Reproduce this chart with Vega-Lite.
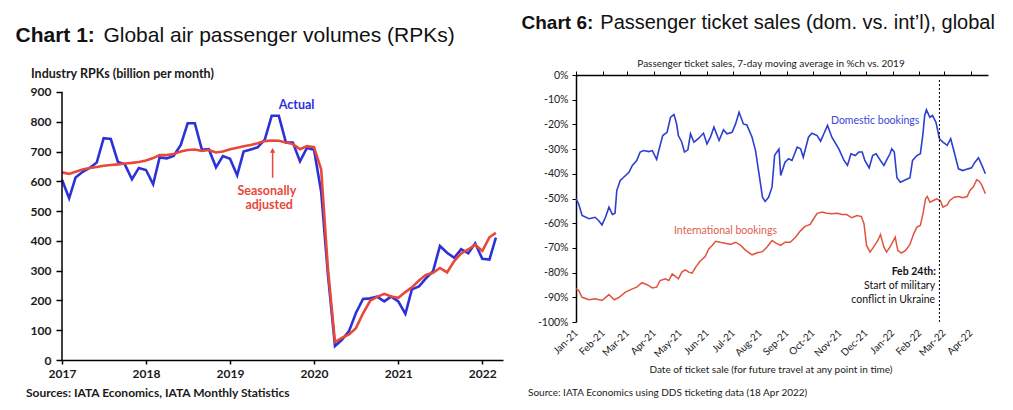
{
  "$schema": "https://vega.github.io/schema/vega-lite/v6.json",
  "background": "white",
  "padding": {"left": 15, "top": 12, "right": 5, "bottom": 5},
  "bounds": "flush",
  "spacing": 73,
  "config": {
    "view": {"stroke": null},
    "font": "Lato",
    "axis": {"grid": false, "domainColor": "#000000", "tickColor": "#000000", "labelColor": "#1a1a1a", "titleColor": "#1a1a1a", "labelFlush": false, "labelOverlap": false}
  },
  "datasets": {
    "rpk": [
      {"month": "2017-01-01", "actual": 605, "sa": 630},
      {"month": "2017-02-01", "actual": 543, "sa": 625},
      {"month": "2017-03-01", "actual": 613, "sa": 632},
      {"month": "2017-04-01", "actual": 632, "sa": 640},
      {"month": "2017-05-01", "actual": 645, "sa": 645},
      {"month": "2017-06-01", "actual": 663, "sa": 648},
      {"month": "2017-07-01", "actual": 745, "sa": 652},
      {"month": "2017-08-01", "actual": 742, "sa": 655},
      {"month": "2017-09-01", "actual": 665, "sa": 657},
      {"month": "2017-10-01", "actual": 657, "sa": 660},
      {"month": "2017-11-01", "actual": 607, "sa": 662},
      {"month": "2017-12-01", "actual": 645, "sa": 665},
      {"month": "2018-01-01", "actual": 638, "sa": 670},
      {"month": "2018-02-01", "actual": 590, "sa": 678},
      {"month": "2018-03-01", "actual": 680, "sa": 688},
      {"month": "2018-04-01", "actual": 677, "sa": 688},
      {"month": "2018-05-01", "actual": 685, "sa": 692},
      {"month": "2018-06-01", "actual": 722, "sa": 700},
      {"month": "2018-07-01", "actual": 795, "sa": 705},
      {"month": "2018-08-01", "actual": 795, "sa": 707},
      {"month": "2018-09-01", "actual": 706, "sa": 702},
      {"month": "2018-10-01", "actual": 708, "sa": 705},
      {"month": "2018-11-01", "actual": 647, "sa": 697},
      {"month": "2018-12-01", "actual": 685, "sa": 700},
      {"month": "2019-01-01", "actual": 676, "sa": 708},
      {"month": "2019-02-01", "actual": 620, "sa": 713},
      {"month": "2019-03-01", "actual": 700, "sa": 718},
      {"month": "2019-04-01", "actual": 707, "sa": 722},
      {"month": "2019-05-01", "actual": 714, "sa": 728},
      {"month": "2019-06-01", "actual": 740, "sa": 735},
      {"month": "2019-07-01", "actual": 820, "sa": 737},
      {"month": "2019-08-01", "actual": 820, "sa": 736},
      {"month": "2019-09-01", "actual": 730, "sa": 730},
      {"month": "2019-10-01", "actual": 730, "sa": 725},
      {"month": "2019-11-01", "actual": 667, "sa": 708},
      {"month": "2019-12-01", "actual": 712, "sa": 718},
      {"month": "2020-01-01", "actual": 706, "sa": 715},
      {"month": "2020-02-01", "actual": 565, "sa": 640},
      {"month": "2020-03-01", "actual": 290, "sa": 310},
      {"month": "2020-04-01", "actual": 47, "sa": 60},
      {"month": "2020-05-01", "actual": 68, "sa": 74},
      {"month": "2020-06-01", "actual": 97, "sa": 86},
      {"month": "2020-07-01", "actual": 158, "sa": 107},
      {"month": "2020-08-01", "actual": 205, "sa": 157},
      {"month": "2020-09-01", "actual": 207, "sa": 199},
      {"month": "2020-10-01", "actual": 213, "sa": 212},
      {"month": "2020-11-01", "actual": 197, "sa": 222},
      {"month": "2020-12-01", "actual": 213, "sa": 213},
      {"month": "2021-01-01", "actual": 197, "sa": 209},
      {"month": "2021-02-01", "actual": 155, "sa": 228},
      {"month": "2021-03-01", "actual": 237, "sa": 244},
      {"month": "2021-04-01", "actual": 247, "sa": 267},
      {"month": "2021-05-01", "actual": 274, "sa": 286},
      {"month": "2021-06-01", "actual": 298, "sa": 293},
      {"month": "2021-07-01", "actual": 383, "sa": 309},
      {"month": "2021-08-01", "actual": 360, "sa": 294},
      {"month": "2021-09-01", "actual": 343, "sa": 332},
      {"month": "2021-10-01", "actual": 372, "sa": 358},
      {"month": "2021-11-01", "actual": 358, "sa": 371},
      {"month": "2021-12-01", "actual": 392, "sa": 387},
      {"month": "2022-01-01", "actual": 340, "sa": 366},
      {"month": "2022-02-01", "actual": 337, "sa": 412},
      {"month": "2022-03-01", "actual": 411, "sa": 427}
    ],
    "dom": [
      {"date": "2021-01-01", "pct": -50.1}, {"date": "2021-01-04", "pct": -52.1}, {"date": "2021-01-08", "pct": -56.9}, {"date": "2021-01-16", "pct": -58.2},
      {"date": "2021-01-23", "pct": -57.6}, {"date": "2021-01-27", "pct": -58.9}, {"date": "2021-01-31", "pct": -60.7}, {"date": "2021-02-04", "pct": -57.6},
      {"date": "2021-02-08", "pct": -53.5}, {"date": "2021-02-12", "pct": -56.5}, {"date": "2021-02-15", "pct": -56}, {"date": "2021-02-17", "pct": -46.8},
      {"date": "2021-02-21", "pct": -42.7}, {"date": "2021-02-25", "pct": -41.4}, {"date": "2021-03-03", "pct": -39.4}, {"date": "2021-03-07", "pct": -36.6},
      {"date": "2021-03-12", "pct": -34.6}, {"date": "2021-03-16", "pct": -31.2}, {"date": "2021-03-20", "pct": -30.6}, {"date": "2021-03-26", "pct": -31},
      {"date": "2021-03-30", "pct": -30.6}, {"date": "2021-04-04", "pct": -34.2}, {"date": "2021-04-06", "pct": -31.2}, {"date": "2021-04-11", "pct": -24.5},
      {"date": "2021-04-16", "pct": -23.2}, {"date": "2021-04-20", "pct": -17.1}, {"date": "2021-04-24", "pct": -16}, {"date": "2021-04-27", "pct": -19.8},
      {"date": "2021-04-29", "pct": -24.5}, {"date": "2021-05-03", "pct": -27.2}, {"date": "2021-05-06", "pct": -31.2}, {"date": "2021-05-10", "pct": -30.3},
      {"date": "2021-05-13", "pct": -23.8}, {"date": "2021-05-17", "pct": -27.2}, {"date": "2021-05-22", "pct": -25.8}, {"date": "2021-05-28", "pct": -23.6},
      {"date": "2021-06-01", "pct": -27.9}, {"date": "2021-06-05", "pct": -25.2}, {"date": "2021-06-09", "pct": -21.1}, {"date": "2021-06-15", "pct": -26.5},
      {"date": "2021-06-20", "pct": -22.2}, {"date": "2021-06-24", "pct": -23.8}, {"date": "2021-06-30", "pct": -23.2}, {"date": "2021-07-04", "pct": -19.8},
      {"date": "2021-07-08", "pct": -15.1}, {"date": "2021-07-13", "pct": -19.8}, {"date": "2021-07-17", "pct": -20.2}, {"date": "2021-07-23", "pct": -25.2},
      {"date": "2021-07-27", "pct": -30.6}, {"date": "2021-07-31", "pct": -40}, {"date": "2021-08-04", "pct": -49.5}, {"date": "2021-08-07", "pct": -51.2},
      {"date": "2021-08-11", "pct": -49.5}, {"date": "2021-08-15", "pct": -45.4}, {"date": "2021-08-18", "pct": -32.5}, {"date": "2021-08-23", "pct": -30},
      {"date": "2021-08-25", "pct": -40.7}, {"date": "2021-08-30", "pct": -35.3}, {"date": "2021-09-03", "pct": -33.9}, {"date": "2021-09-07", "pct": -34.6},
      {"date": "2021-09-13", "pct": -29.2}, {"date": "2021-09-17", "pct": -29.9}, {"date": "2021-09-20", "pct": -33.3}, {"date": "2021-09-26", "pct": -25.2},
      {"date": "2021-09-30", "pct": -23.6}, {"date": "2021-10-06", "pct": -24.5}, {"date": "2021-10-10", "pct": -26.8}, {"date": "2021-10-14", "pct": -23.6},
      {"date": "2021-10-18", "pct": -20.4}, {"date": "2021-10-23", "pct": -25.2}, {"date": "2021-10-31", "pct": -29.9}, {"date": "2021-11-06", "pct": -34.6},
      {"date": "2021-11-10", "pct": -36.6}, {"date": "2021-11-14", "pct": -31.9}, {"date": "2021-11-19", "pct": -32.6}, {"date": "2021-11-23", "pct": -31.2},
      {"date": "2021-11-27", "pct": -31.2}, {"date": "2021-11-30", "pct": -34.6}, {"date": "2021-12-05", "pct": -37.6}, {"date": "2021-12-09", "pct": -32.6},
      {"date": "2021-12-13", "pct": -31.9}, {"date": "2021-12-18", "pct": -34.6}, {"date": "2021-12-22", "pct": -36.6}, {"date": "2021-12-26", "pct": -33.9},
      {"date": "2021-12-29", "pct": -31.9}, {"date": "2021-12-31", "pct": -29.9}, {"date": "2022-01-03", "pct": -31.2}, {"date": "2022-01-06", "pct": -41.6},
      {"date": "2022-01-10", "pct": -43.4}, {"date": "2022-01-16", "pct": -42.4}, {"date": "2022-01-21", "pct": -41.6}, {"date": "2022-01-24", "pct": -34.6},
      {"date": "2022-01-29", "pct": -32.6}, {"date": "2022-02-02", "pct": -31.9}, {"date": "2022-02-05", "pct": -23.8}, {"date": "2022-02-07", "pct": -16.4},
      {"date": "2022-02-09", "pct": -14.1}, {"date": "2022-02-13", "pct": -17.1}, {"date": "2022-02-16", "pct": -16.4}, {"date": "2022-02-20", "pct": -19.1},
      {"date": "2022-02-24", "pct": -25.8}, {"date": "2022-02-28", "pct": -27.2}, {"date": "2022-03-05", "pct": -28.5}, {"date": "2022-03-09", "pct": -25.8},
      {"date": "2022-03-13", "pct": -31.2}, {"date": "2022-03-18", "pct": -38}, {"date": "2022-03-23", "pct": -38.7}, {"date": "2022-03-29", "pct": -38},
      {"date": "2022-04-02", "pct": -37.6}, {"date": "2022-04-06", "pct": -35.3}, {"date": "2022-04-10", "pct": -33.5}, {"date": "2022-04-14", "pct": -36.6},
      {"date": "2022-04-18", "pct": -40}
    ],
    "intl": [
      {"date": "2021-01-01", "pct": -86.6}, {"date": "2021-01-04", "pct": -87.2}, {"date": "2021-01-08", "pct": -90}, {"date": "2021-01-16", "pct": -91},
      {"date": "2021-01-23", "pct": -90.6}, {"date": "2021-01-31", "pct": -91.3}, {"date": "2021-02-08", "pct": -88.9}, {"date": "2021-02-14", "pct": -91},
      {"date": "2021-02-19", "pct": -90.2}, {"date": "2021-02-27", "pct": -87.9}, {"date": "2021-03-07", "pct": -86.6}, {"date": "2021-03-12", "pct": -85.9},
      {"date": "2021-03-18", "pct": -84.1}, {"date": "2021-03-24", "pct": -84.9}, {"date": "2021-03-30", "pct": -86.2}, {"date": "2021-04-04", "pct": -85.9},
      {"date": "2021-04-08", "pct": -83.2}, {"date": "2021-04-14", "pct": -82.5}, {"date": "2021-04-18", "pct": -83.2}, {"date": "2021-04-22", "pct": -80.5},
      {"date": "2021-04-27", "pct": -81.9}, {"date": "2021-04-29", "pct": -82.5}, {"date": "2021-05-03", "pct": -79.8}, {"date": "2021-05-07", "pct": -78.9},
      {"date": "2021-05-11", "pct": -79.8}, {"date": "2021-05-15", "pct": -80.2}, {"date": "2021-05-19", "pct": -77.8}, {"date": "2021-05-24", "pct": -75.4},
      {"date": "2021-05-30", "pct": -73.5}, {"date": "2021-06-03", "pct": -70.4}, {"date": "2021-06-07", "pct": -69}, {"date": "2021-06-11", "pct": -67.3},
      {"date": "2021-06-16", "pct": -67.7}, {"date": "2021-06-22", "pct": -68.1}, {"date": "2021-06-28", "pct": -68.6}, {"date": "2021-07-04", "pct": -67.7},
      {"date": "2021-07-10", "pct": -69}, {"date": "2021-07-15", "pct": -70.8}, {"date": "2021-07-23", "pct": -72.8}, {"date": "2021-07-29", "pct": -72},
      {"date": "2021-08-04", "pct": -71.5}, {"date": "2021-08-09", "pct": -69.7}, {"date": "2021-08-15", "pct": -67}, {"date": "2021-08-19", "pct": -68},
      {"date": "2021-08-25", "pct": -69}, {"date": "2021-08-30", "pct": -67.7}, {"date": "2021-09-05", "pct": -67.7}, {"date": "2021-09-11", "pct": -65.7},
      {"date": "2021-09-17", "pct": -63}, {"date": "2021-09-22", "pct": -61.3}, {"date": "2021-09-28", "pct": -60.5}, {"date": "2021-10-02", "pct": -58.2},
      {"date": "2021-10-06", "pct": -56}, {"date": "2021-10-12", "pct": -55.5}, {"date": "2021-10-17", "pct": -56}, {"date": "2021-10-23", "pct": -56.2},
      {"date": "2021-10-29", "pct": -56}, {"date": "2021-11-04", "pct": -56.5}, {"date": "2021-11-09", "pct": -56.5}, {"date": "2021-11-15", "pct": -57.8},
      {"date": "2021-11-21", "pct": -56.9}, {"date": "2021-11-26", "pct": -57.3}, {"date": "2021-11-29", "pct": -60.2}, {"date": "2021-12-02", "pct": -69},
      {"date": "2021-12-06", "pct": -71.7}, {"date": "2021-12-10", "pct": -69.7}, {"date": "2021-12-15", "pct": -67}, {"date": "2021-12-18", "pct": -64.6},
      {"date": "2021-12-22", "pct": -69.7}, {"date": "2021-12-25", "pct": -71.7}, {"date": "2021-12-29", "pct": -69.7}, {"date": "2022-01-01", "pct": -67.7},
      {"date": "2022-01-04", "pct": -65.7}, {"date": "2022-01-07", "pct": -71}, {"date": "2022-01-11", "pct": -72.1}, {"date": "2022-01-16", "pct": -71},
      {"date": "2022-01-21", "pct": -68.6}, {"date": "2022-01-25", "pct": -64.6}, {"date": "2022-01-29", "pct": -61.6}, {"date": "2022-02-02", "pct": -60.9},
      {"date": "2022-02-05", "pct": -56.2}, {"date": "2022-02-08", "pct": -50.1}, {"date": "2022-02-10", "pct": -49.2}, {"date": "2022-02-13", "pct": -51.5},
      {"date": "2022-02-17", "pct": -50.8}, {"date": "2022-02-21", "pct": -50.1}, {"date": "2022-02-25", "pct": -50.8}, {"date": "2022-02-28", "pct": -53.5},
      {"date": "2022-03-05", "pct": -52.6}, {"date": "2022-03-08", "pct": -50.8}, {"date": "2022-03-13", "pct": -49.5}, {"date": "2022-03-18", "pct": -49.2},
      {"date": "2022-03-23", "pct": -49.7}, {"date": "2022-03-28", "pct": -49.2}, {"date": "2022-03-31", "pct": -46.8}, {"date": "2022-04-04", "pct": -45.4},
      {"date": "2022-04-08", "pct": -42.4}, {"date": "2022-04-11", "pct": -43}, {"date": "2022-04-14", "pct": -44.7}, {"date": "2022-04-18", "pct": -48.1}
    ]
  },
  "hconcat": [
    {
      "width": 441,
      "height": 285,
      "title": {
        "text": "Chart 1:",
        "anchor": "start", "frame": "group", "dx": -46.5, "offset": -21,
        "font": "Liberation Sans", "fontSize": 21, "fontWeight": "bold", "color": "#111111"
      },
      "resolve": {"axis": {"x": "independent", "y": "independent"}},
      "layer": [
        {
          "data": {"name": "rpk"},
          "mark": {"type": "line", "color": "#2b32d9", "strokeWidth": 2.6},
          "encoding": {
            "x": {"field": "month", "type": "temporal",
              "scale": {"type": "utc", "domain": [{"year": 2017, "month": 1, "date": 1, "utc": true}, {"year": 2022, "month": 4, "date": 1, "utc": true}]},
              "axis": {"orient": "bottom", "format": "%Y", "tickCount": {"interval": "year", "step": 1}, "domainWidth": 1.5, "tickSize": 4, "tickWidth": 1.5,
                "labelFontSize": 12, "labelFontWeight": "bold", "labelPadding": 4, "labelOverlap": false, "labelFlush": false,
                "title": "Sources: IATA Economics, IATA Monthly Statistics", "titleFontSize": 12, "titleFontWeight": "bold",
                "titleAlign": "left", "titleBaseline": "middle", "titleX": -36.5, "titleY": 32.5}},
            "y": {"field": "actual", "type": "quantitative",
              "scale": {"domain": [0, 957], "nice": false},
              "axis": {"orient": "left", "values": [0, 100, 200, 300, 400, 500, 600, 700, 800, 900], "domain": false, "tickSize": 6, "tickWidth": 1.5,
                "labelFontSize": 12, "labelFontWeight": "bold", "labelPadding": 5, "labelOverlap": false, "labelFlush": false,
                "title": "Industry RPKs (billion per month)", "titleFontSize": 12.5, "titleFontWeight": "bold", "titleAngle": 0,
                "titleAlign": "left", "titleBaseline": "middle", "titleX": -31.5, "titleY": -1.5}}
          }
        },
        {
          "data": {"name": "rpk"},
          "mark": {"type": "line", "color": "#e8483a", "strokeWidth": 2.6},
          "encoding": {
            "x": {"field": "month", "type": "temporal", "axis": null},
            "y": {"field": "sa", "type": "quantitative", "axis": null}
          }
        },
        {
          "data": {"values": [{}]},
          "mark": {"type": "rule", "color": "#000000", "strokeWidth": 1.5},
          "encoding": {
            "x": {"datum": {"year": 2017, "month": 1, "date": 1, "utc": true}, "type": "temporal", "axis": null},
            "y": {"datum": 0, "type": "quantitative", "axis": null},
            "y2": {"datum": 900}
          }
        },
        {
          "data": {"values": [{}]},
          "mark": {"type": "rule", "color": "#e8483a", "strokeWidth": 1.5},
          "encoding": {
            "x": {"datum": {"year": 2019, "month": 7, "date": 5, "utc": true}, "type": "temporal", "axis": null},
            "y": {"datum": 612, "type": "quantitative", "axis": null},
            "y2": {"datum": 700}
          }
        },
        {
          "data": {"values": [{}]},
          "mark": {"type": "point", "shape": "triangle-up", "filled": true, "color": "#e8483a", "size": 30, "opacity": 1},
          "encoding": {
            "x": {"datum": {"year": 2019, "month": 7, "date": 5, "utc": true}, "type": "temporal", "axis": null},
            "y": {"datum": 704, "type": "quantitative", "axis": null}
          }
        },
        {
          "data": {"values": [{}]},
          "mark": {"type": "text", "text": "Global air passenger volumes (RPKs)", "font": "Liberation Sans", "color": "#111111", "fontSize": 21, "align": "left", "baseline": "alphabetic"},
          "encoding": {
            "x": {"datum": {"year": 2017, "month": 6, "date": 30, "utc": true}, "type": "temporal", "axis": null},
            "y": {"datum": 1067, "type": "quantitative", "axis": null}
          }
        },
        {
          "data": {"values": [{}]},
          "mark": {"type": "text", "text": "Actual", "color": "#2b32d9", "fontSize": 12.5, "fontWeight": "bold", "align": "center", "baseline": "middle"},
          "encoding": {
            "x": {"datum": {"year": 2019, "month": 10, "date": 17, "utc": true}, "type": "temporal", "axis": null},
            "y": {"datum": 856, "type": "quantitative", "axis": null}
          }
        },
        {
          "data": {"values": [{}]},
          "mark": {"type": "text", "text": "Seasonally", "color": "#e8483a", "fontSize": 12.5, "fontWeight": "bold", "align": "center", "baseline": "middle"},
          "encoding": {
            "x": {"datum": {"year": 2019, "month": 6, "date": 10, "utc": true}, "type": "temporal", "axis": null},
            "y": {"datum": 569, "type": "quantitative", "axis": null}
          }
        },
        {
          "data": {"values": [{}]},
          "mark": {"type": "text", "text": "adjusted", "color": "#e8483a", "fontSize": 12.5, "fontWeight": "bold", "align": "center", "baseline": "middle"},
          "encoding": {
            "x": {"datum": {"year": 2019, "month": 6, "date": 20, "utc": true}, "type": "temporal", "axis": null},
            "y": {"datum": 519, "type": "quantitative", "axis": null}
          }
        }
      ]
    },
    {
      "width": 412,
      "height": 247,
      "title": {
        "text": "Chart 6:",
        "anchor": "start", "frame": "group", "dx": -54.5, "offset": -20,
        "font": "Liberation Sans", "fontSize": 19, "fontWeight": "bold", "color": "#111111"
      },
      "resolve": {"axis": {"x": "independent", "y": "independent"}},
      "layer": [
        {
          "data": {"name": "dom"},
          "mark": {"type": "line", "color": "#2c3fd0", "strokeWidth": 1.6},
          "encoding": {
            "x": {"field": "date", "type": "temporal",
              "scale": {"type": "utc", "domain": [{"year": 2021, "month": 1, "date": 1, "utc": true}, {"year": 2022, "month": 4, "date": 21, "utc": true}]},
              "axis": {"orient": "top", "labels": false, "tickCount": {"interval": "month", "step": 1}, "domainWidth": 1.5, "tickSize": 4, "tickWidth": 1,
                "title": "Passenger ticket sales, 7-day moving average in %ch vs. 2019", "titleFontSize": 10, "titleFontWeight": "normal",
                "titleAlign": "center", "titleBaseline": "middle", "titleX": 194.5, "titleY": -11.5}},
            "y": {"field": "pct", "type": "quantitative",
              "scale": {"domain": [-100, 0], "nice": false},
              "axis": {"orient": "left", "values": [0, -10, -20, -30, -40, -50, -60, -70, -80, -90, -100], "labelExpr": "datum.value + '%'",
                "domainWidth": 1.5, "tickSize": 4, "tickWidth": 1, "labelFontSize": 10.5, "labelPadding": 4, "labelOverlap": false, "labelFlush": false,
                "title": "Source: IATA Economics using DDS ticketing data (18 Apr 2022)", "titleFontSize": 10, "titleFontWeight": "normal", "titleAngle": 0,
                "titleAlign": "left", "titleBaseline": "middle", "titleX": -48.5, "titleY": 317}}
          }
        },
        {
          "data": {"name": "intl"},
          "mark": {"type": "line", "color": "#e0533f", "strokeWidth": 1.5},
          "encoding": {
            "x": {"field": "date", "type": "temporal",
              "axis": {"orient": "bottom", "domain": false, "ticks": false, "format": "%b-%y", "tickCount": {"interval": "month", "step": 1},
                "labelAngle": -45, "labelAlign": "right", "labelBaseline": "middle", "labelPadding": 9, "labelFontSize": 10, "labelOverlap": false, "labelFlush": false,
                "title": "Date of ticket sale (for future travel at any point in time)", "titleFontSize": 10, "titleFontWeight": "normal",
                "titleAlign": "center", "titleBaseline": "middle", "titleX": 194.5, "titleY": 47.5}},
            "y": {"field": "pct", "type": "quantitative", "axis": null}
          }
        },
        {
          "data": {"values": [{}]},
          "mark": {"type": "rule", "color": "#000000", "strokeWidth": 1, "strokeDash": [2, 2]},
          "encoding": {
            "x": {"datum": {"year": 2022, "month": 2, "date": 24, "utc": true}, "type": "temporal", "axis": null},
            "y": {"datum": -2, "type": "quantitative", "axis": null},
            "y2": {"datum": -100}
          }
        },
        {
          "data": {"values": [{}]},
          "mark": {"type": "text", "text": "Passenger ticket sales (dom. vs. int\u2019l), global", "font": "Liberation Sans", "color": "#111111", "fontSize": 20, "align": "left", "baseline": "alphabetic"},
          "encoding": {
            "x": {"datum": {"year": 2021, "month": 1, "date": 29, "utc": true}, "type": "temporal", "axis": null},
            "y": {"datum": 18.8, "type": "quantitative", "axis": null}
          }
        },
        {
          "data": {"values": [{}]},
          "mark": {"type": "text", "text": "Domestic bookings", "color": "#3a49d6", "fontSize": 10.5, "align": "left", "baseline": "middle"},
          "encoding": {
            "x": {"datum": {"year": 2021, "month": 10, "date": 22, "utc": true}, "type": "temporal", "axis": null},
            "y": {"datum": -18.7, "type": "quantitative", "axis": null}
          }
        },
        {
          "data": {"values": [{}]},
          "mark": {"type": "text", "text": "International bookings", "color": "#e0604f", "fontSize": 10.5, "align": "left", "baseline": "middle"},
          "encoding": {
            "x": {"datum": {"year": 2021, "month": 4, "date": 24, "utc": true}, "type": "temporal", "axis": null},
            "y": {"datum": -63, "type": "quantitative", "axis": null}
          }
        },
        {
          "data": {"values": [{}]},
          "mark": {"type": "text", "text": "Feb 24th:", "color": "#111111", "fontSize": 10.5, "fontWeight": "bold", "align": "right", "baseline": "middle"},
          "encoding": {
            "x": {"datum": {"year": 2022, "month": 2, "date": 20, "utc": true}, "type": "temporal", "axis": null},
            "y": {"datum": -79.8, "type": "quantitative", "axis": null}
          }
        },
        {
          "data": {"values": [{}]},
          "mark": {"type": "text", "text": "Start of military", "color": "#111111", "fontSize": 10.5, "align": "right", "baseline": "middle"},
          "encoding": {
            "x": {"datum": {"year": 2022, "month": 2, "date": 19, "utc": true}, "type": "temporal", "axis": null},
            "y": {"datum": -85.6, "type": "quantitative", "axis": null}
          }
        },
        {
          "data": {"values": [{}]},
          "mark": {"type": "text", "text": "conflict in Ukraine", "color": "#111111", "fontSize": 10.5, "align": "right", "baseline": "middle"},
          "encoding": {
            "x": {"datum": {"year": 2022, "month": 2, "date": 19, "utc": true}, "type": "temporal", "axis": null},
            "y": {"datum": -91.2, "type": "quantitative", "axis": null}
          }
        }
      ]
    }
  ]
}
